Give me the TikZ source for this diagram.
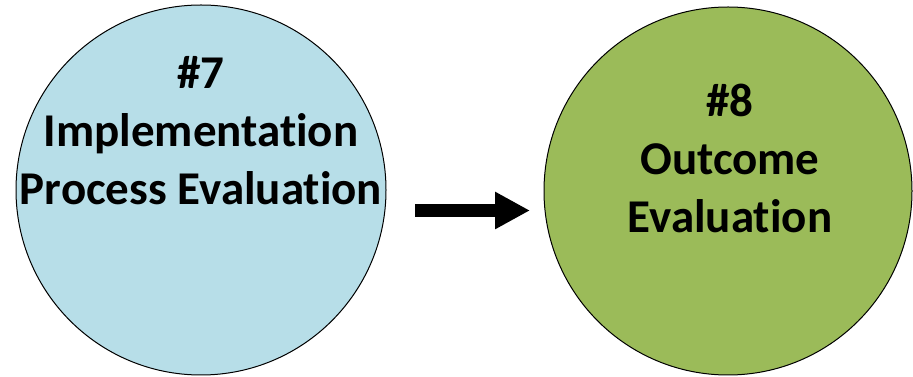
\documentclass[tikz,border=0pt]{standalone}
\usepackage{fontspec}
\setmainfont{Carlito}[Ligatures=NoCommon]
\usetikzlibrary{arrows.meta}
\definecolor{lightaqua}{HTML}{B7DEE8}
\definecolor{olivegreen}{HTML}{9BBB59}
\newcommand{\phaseA}{lightaqua}
\newcommand{\phaseB}{olivegreen}

\begin{document}
\begin{tikzpicture}[x=1pt,y=1pt,inner sep=0pt,outer sep=0pt,
	phase/.style={circle,draw=black,line width=1pt},
	phasetext/.style={align=center,anchor=north,font=\fontsize{47}{58}\selectfont\bfseries},
	flow/.style={line width=13pt,-{Triangle[length=35pt,width=35pt]}}]
	\useasboundingbox (0,0) rectangle (913,377);
	\node[phase,fill=\phaseA,minimum size=370pt] (impl) at (201,187) {};
	\node[phase,fill=\phaseB,minimum size=368pt] (outc) at (728,186) {};
	\node[phasetext] (impltext) at (201,321) {\#7\\Implementation\\Process Evaluation};
	\node[phasetext] (outctext) at (730,293) {\#8\\Outcome\\Evaluation};
	%\draw[help lines] (0,0) grid[step=50] (913,377);
	\draw[flow] ([xshift=29pt,yshift=-20.5pt]impl.east) -- ([xshift=-14pt,yshift=-19.5pt]outc.west);
\end{tikzpicture}
\end{document}
